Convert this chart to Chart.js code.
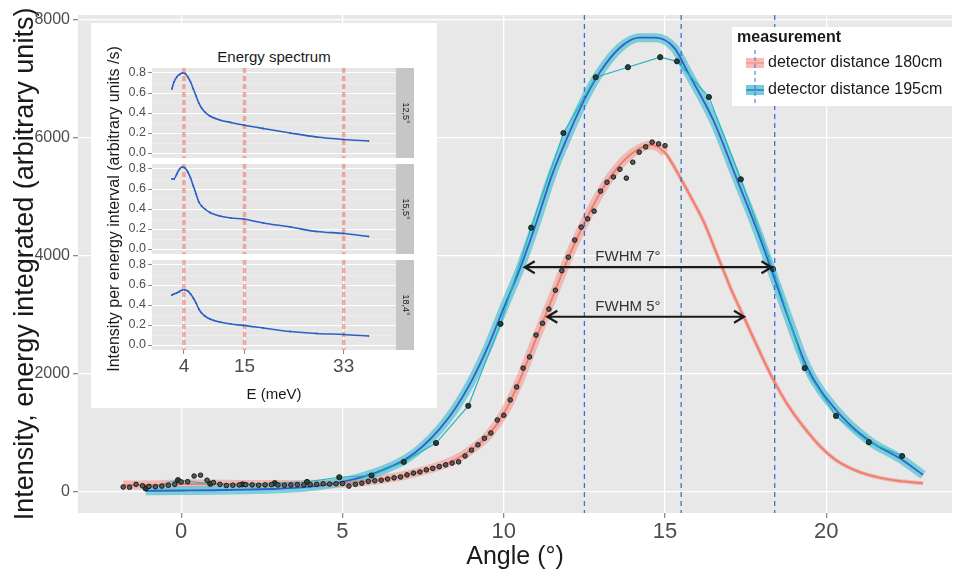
<!DOCTYPE html>
<html>
<head>
<meta charset="utf-8">
<title>Intensity vs angle</title>
<script src="https://cdn.jsdelivr.net/npm/chart.js@4.4.1/dist/chart.umd.min.js"></script>
<style>
  html, body { margin: 0; padding: 0; background: #fff; }
  #wrap { position: relative; width: 957px; height: 574px; overflow: hidden; font-family: "Liberation Sans", Arial, sans-serif; color: #1a1a1a; }
  #main { position: absolute; left: 0; top: 0; }
  #inset { position: absolute; left: 91px; top: 23px; width: 346px; height: 385px; background: #fff; }
  #inset canvas { position: absolute; left: 0; }
  #insetTitle { position: absolute; left: 61px; width: 244px; top: 25px; text-align: center; font-size: 15px; }
  #insetYTitle { position: absolute; width: 360px; left: -157px; top: 177px; line-height: 18px; text-align: center; font-size: 16px; transform: rotate(-90deg); white-space: nowrap; }
</style>
</head>
<body>
<div id="wrap">
  <canvas id="main" width="957" height="574"></canvas>
  <div id="inset">
    <div id="insetTitle">Energy spectrum</div>
    <canvas id="p0" width="323" height="110" style="top:35px"></canvas>
    <canvas id="p1" width="323" height="110" style="top:131px"></canvas>
    <canvas id="p2" width="323" height="158" style="top:227px"></canvas>
    <div id="insetYTitle">Intensity per energy interval (arbitrary units /s)</div>
  </div>
</div>
<script>
// main plot: detector distance 180cm (dense scan)
const redAngle = [
  -1.8, -1.6, -1.4, -1.2, -1.0, -0.8, -0.6, -0.4, -0.2, 0.0,
  0.2, 0.4, 0.6, 0.8, 1.0, 1.2, 1.4, 1.6, 1.8, 2.0,
  2.2, 2.4, 2.6, 2.8, 3.0, 3.2, 3.4, 3.6, 3.8, 4.0,
  4.2, 4.4, 4.6, 4.8, 5.0, 5.2, 5.4, 5.6, 5.8, 6.0,
  6.2, 6.4, 6.6, 6.8, 7.0, 7.2, 7.4, 7.6, 7.8, 8.0,
  8.2, 8.4, 8.6, 8.8, 9.0, 9.2, 9.4, 9.6, 9.8, 10.0,
  10.2, 10.4, 10.6, 10.8, 11.0, 11.2, 11.4, 11.6, 11.8, 12.0,
  12.2, 12.4, 12.6, 12.8, 13.0, 13.2, 13.4, 13.6, 13.8, 14.0,
  14.2, 14.4, 14.6, 14.8, 15.0
];
const redIntensity = [
  85, 80, 130, 105, 95, 90, 100, 115, 130, 170,
  175, 270, 285, 200, 160, 130, 110, 115, 120, 125,
  120, 115, 120, 125, 120, 115, 120, 125, 120, 125,
  130, 140, 135, 140, 145, 100, 130, 150, 180, 190,
  200, 220, 240, 255, 290, 320, 340, 375, 400, 430,
  460, 490, 510, 610, 710, 800, 910, 1000, 1220, 1300,
  1560, 1780, 2100, 2290, 2660, 2860, 3100, 3420, 3750, 3980,
  4270, 4490, 4630, 4760, 5100, 5250, 5340, 5470, 5320, 5590,
  5760, 5850, 5930, 5900, 5870
];
// detector distance 195cm (1 degree steps)
const blueAngle = [-1.1, -0.1, 0.9, 1.9, 2.9, 3.9, 4.9, 5.9, 6.9, 7.9, 8.9, 9.9, 10.85, 11.85, 12.85, 13.85, 14.85, 15.37, 16.36, 17.35, 18.35, 19.33, 20.3, 21.32, 22.35];
const blueIntensity = [60, 200, 140, 130, 150, 170, 250, 280, 510, 830, 1460, 2850, 4480, 6085, 7030, 7200, 7370, 7300, 6695, 5300, 3780, 2100, 1290, 845, 610];

// smoothed fits
const redFitAngle = [-1.8, -1, 0, 1, 2, 3, 4, 5, 6, 7, 7.5, 8, 8.5, 9, 9.5, 10, 10.5, 11, 11.5, 12, 12.5, 13, 13.5, 14, 14.55, 15, 15.46, 15.8, 16.2, 16.5, 16.8, 17.1, 17.44, 17.9, 18.36, 18.8, 19.3, 19.8, 20.3, 20.8, 21.3, 22.2, 23.0];
const redFit = [120, 120, 135, 135, 125, 125, 130, 150, 200, 290, 360, 440, 550, 720, 950, 1330, 1900, 2600, 3280, 3970, 4560, 5080, 5480, 5750, 5880, 5750, 5340, 5000, 4580, 4180, 3770, 3370, 2970, 2420, 1900, 1480, 1100, 780, 540, 390, 290, 190, 150];
const blueFitAngle = [-1.1, 0, 1, 2, 3, 4, 5, 6, 6.5, 7, 7.5, 8, 8.5, 9, 9.5, 10, 10.5, 11, 11.5, 12, 12.5, 13, 13.6, 14.2, 14.7, 15.3, 15.7, 16.5, 17.2, 17.85, 18.3, 18.77, 19.4, 20.3, 21.3, 22.37, 23.0];
const blueFit = [20, 25, 30, 40, 55, 90, 170, 320, 430, 570, 780, 1060, 1420, 1880, 2450, 3120, 3780, 4550, 5380, 6050, 6650, 7130, 7530, 7700, 7700, 7520, 7120, 6300, 5340, 4440, 3760, 3030, 2120, 1390, 880, 540, 290];

const angleTicks = [0, 5, 10, 15, 20];
const intensityTicks = [0, 2000, 4000, 6000, 8000];

const markerAngles = [12.5, 15.5, 18.4];
const fwhmLabels = ['FWHM 7°', 'FWHM 5°'];
const fwhmFrom = [10.65, 11.35];
const fwhmTo = [18.3, 17.45];
const fwhmLevel = [3810, 2970];
const fwhmLabelAngle = [13.85, 13.85];

const legendTitle = 'measurement';
const seriesLabels = ['detector distance 180cm', 'detector distance 195cm'];

// inset: energy spectra at three angles
const energy = [1.8, 2.2, 2.7, 3.2, 3.7, 4.2, 4.7, 5.2, 5.7, 6.2, 6.7, 7.2, 7.8, 8.7, 10.5, 12.5, 14.8, 18.4, 23.3, 28.1, 33.0, 37.5];
const spec125 = [0.64, 0.71, 0.76, 0.785, 0.80, 0.795, 0.76, 0.71, 0.64, 0.57, 0.50, 0.45, 0.41, 0.37, 0.33, 0.305, 0.28, 0.245, 0.20, 0.16, 0.135, 0.12];
const spec155 = [0.70, 0.70, 0.75, 0.80, 0.82, 0.81, 0.77, 0.71, 0.63, 0.55, 0.47, 0.43, 0.40, 0.365, 0.33, 0.31, 0.30, 0.26, 0.22, 0.175, 0.155, 0.125];
const spec184 = [0.50, 0.51, 0.52, 0.535, 0.55, 0.55, 0.54, 0.51, 0.47, 0.42, 0.36, 0.32, 0.29, 0.26, 0.23, 0.21, 0.196, 0.17, 0.135, 0.115, 0.105, 0.09];
const stripLabels = ['12,5°', '15,5°', '18,4°'];
const energyTicks = [4, 15, 33];
const spectrumTicks = [0, 0.1, 0.2, 0.3, 0.4, 0.5, 0.6, 0.7, 0.8];

const FONT = "'Liberation Sans', Arial, sans-serif";
Chart.defaults.font.family = FONT;
Chart.defaults.color = '#4d4d4d';

const toPoints = (xs, ys) => xs.map((x, i) => ({ x: x, y: ys[i] }));
const fixTicks = list => s => { s.ticks = list.map(v => ({ value: v })); };

const panelBackground = {
  id: 'panelBackground',
  beforeDraw(chart, args, opts) {
    const { ctx, chartArea: a } = chart;
    ctx.save();
    ctx.fillStyle = opts.color;
    ctx.fillRect(a.left, a.top, a.right - a.left, a.bottom - a.top);
    ctx.restore();
  }
};

const annotations = {
  id: 'annotations',
  afterDatasetsDraw(chart) {
    const { ctx, chartArea: a, scales: { x, y } } = chart;
    ctx.save();
    // vertical markers
    ctx.strokeStyle = '#3b6fd4';
    ctx.lineWidth = 1.3;
    ctx.setLineDash([5, 4]);
    markerAngles.forEach(v => {
      const px = x.getPixelForValue(v);
      ctx.beginPath();
      ctx.moveTo(px, a.top);
      ctx.lineTo(px, a.bottom);
      ctx.stroke();
    });
    ctx.setLineDash([]);
    // FWHM arrows
    ctx.strokeStyle = '#1a1a1a';
    ctx.lineWidth = 2.2;
    fwhmLevel.forEach((lvl, i) => {
      const py = y.getPixelForValue(lvl);
      const x0 = x.getPixelForValue(fwhmFrom[i]);
      const x1 = x.getPixelForValue(fwhmTo[i]);
      ctx.beginPath();
      ctx.moveTo(x0, py); ctx.lineTo(x1, py);
      ctx.moveTo(x0 + 10, py - 6); ctx.lineTo(x0, py); ctx.lineTo(x0 + 10, py + 6);
      ctx.moveTo(x1 - 10, py - 6); ctx.lineTo(x1, py); ctx.lineTo(x1 - 10, py + 6);
      ctx.stroke();
      ctx.fillStyle = '#333';
      ctx.font = '15px ' + FONT;
      ctx.textAlign = 'center';
      ctx.textBaseline = 'middle';
      ctx.fillText(fwhmLabels[i], x.getPixelForValue(fwhmLabelAngle[i]), py - 10);
    });
    ctx.restore();
  }
};

const legendBox = {
  id: 'legendBox',
  afterDraw(chart) {
    const { ctx } = chart;
    ctx.save();
    ctx.fillStyle = '#fff';
    ctx.fillRect(732, 27, 222, 79);
    ctx.fillStyle = '#1a1a1a';
    ctx.font = 'bold 16px ' + FONT;
    ctx.textAlign = 'left';
    ctx.textBaseline = 'middle';
    ctx.fillText(legendTitle, 737, 38);
    const keys = [['rgba(246,128,116,0.55)', 'rgba(239,127,110,0.7)'], ['rgba(88,196,214,0.85)', '#2f62c9']];
    seriesLabels.forEach((lab, i) => {
      const cy = 63 + i * 27;
      ctx.fillStyle = keys[i][0];
      ctx.fillRect(746, cy - 5, 18, 10);
      ctx.strokeStyle = keys[i][1];
      ctx.lineWidth = 1.2;
      ctx.beginPath(); ctx.moveTo(746, cy); ctx.lineTo(764, cy); ctx.stroke();
      ctx.fillStyle = '#1a1a1a';
      ctx.font = '16px ' + FONT;
      ctx.fillText(lab, 768, cy);
    });
    ctx.strokeStyle = '#3b6fd4';
    ctx.lineWidth = 1;
    ctx.setLineDash([4, 3]);
    ctx.beginPath(); ctx.moveTo(755, 50); ctx.lineTo(755, 103); ctx.stroke();
    ctx.restore();
  }
};

new Chart(document.getElementById('main'), {
  type: 'line',
  data: {
    datasets: [
      { data: toPoints(redAngle, redIntensity), showLine: false, pointRadius: 2.3, pointBackgroundColor: '#5a5a5a', pointBorderColor: '#111', pointBorderWidth: 0.9, order: 1 },
      { data: toPoints(blueAngle, blueIntensity), borderColor: '#22b4c4', borderWidth: 1.2, pointRadius: 2.6, pointBackgroundColor: '#24403c', pointBorderColor: '#0d1d1a', pointBorderWidth: 0.9, order: 2 },
      { data: toPoints(blueFitAngle, blueFit), borderColor: '#2f62c9', borderWidth: 1.8, pointRadius: 0, cubicInterpolationMode: 'monotone', order: 3 },
      { data: toPoints(redFitAngle, redFit), borderColor: '#ef7f6e', borderWidth: 2, pointRadius: 0, cubicInterpolationMode: 'monotone', order: 4 },
      { data: toPoints(blueFitAngle, blueFit), borderColor: 'rgba(88,196,214,0.75)', borderWidth: 9, pointRadius: 0, cubicInterpolationMode: 'monotone', order: 5 },
      {
        data: toPoints(redFitAngle, redFit), borderColor: 'rgba(246,120,108,0.42)', borderWidth: 9, pointRadius: 0, cubicInterpolationMode: 'monotone', order: 6,
        segment: { borderWidth: c => c.p0.parsed.x >= 15 ? 4 : 9 }
      }
    ]
  },
  options: {
    responsive: false,
    animation: false,
    devicePixelRatio: 1,
    layout: { padding: { top: 15, right: 0, left: 0, bottom: 0 } },
    plugins: {
      legend: { display: false },
      tooltip: { enabled: false },
      panelBackground: { color: '#e8e8e8' }
    },
    scales: {
      x: {
        type: 'linear', min: -3.2, max: 23.9,
        afterBuildTicks: fixTicks(angleTicks),
        afterFit: s => { s.height = 61; },
        border: { display: false },
        grid: { color: '#fff', lineWidth: 1.3, tickColor: '#8a8a8a', tickLength: 5 },
        ticks: { font: { size: 22 }, padding: 1, color: '#4d4d4d', callback: v => String(v) },
        title: { display: true, text: 'Angle (°)', color: '#1a1a1a', font: { size: 25 }, padding: { top: 2, bottom: 2 } }
      },
      y: {
        min: -356, max: 8085,
        afterBuildTicks: fixTicks(intensityTicks),
        afterFit: s => { s.width = 78; },
        border: { display: false },
        grid: { color: '#fff', lineWidth: 1.3, tickColor: '#8a8a8a', tickLength: 5 },
        ticks: { font: { size: 16 }, padding: 3, color: '#4d4d4d', callback: v => String(v) },
        title: { display: true, text: 'Intensity, energy integrated (arbitrary units)', color: '#1a1a1a', font: { size: 27 }, padding: { top: 9, bottom: 9 } }
      }
    }
  },
  plugins: [panelBackground, annotations, legendBox]
});

const energyMarks = {
  id: 'energyMarks',
  beforeDatasetsDraw(chart) {
    const { ctx, chartArea: a, scales: { x } } = chart;
    ctx.save();
    ctx.strokeStyle = 'rgba(240,122,110,0.6)';
    ctx.lineWidth = 3.5;
    ctx.setLineDash([5, 3]);
    energyTicks.forEach(e => {
      const px = x.getPixelForValue(e);
      ctx.beginPath(); ctx.moveTo(px, a.top); ctx.lineTo(px, a.bottom); ctx.stroke();
    });
    ctx.restore();
  }
};

const strip = {
  id: 'strip',
  afterDraw(chart, args, opts) {
    const { ctx, chartArea: a } = chart;
    ctx.save();
    ctx.fillStyle = '#c6c6c6';
    ctx.fillRect(a.right, a.top, 18, a.bottom - a.top);
    ctx.translate(a.right + 9, (a.top + a.bottom) / 2);
    ctx.rotate(Math.PI / 2);
    ctx.fillStyle = '#1a1a1a';
    ctx.font = '9px ' + FONT;
    ctx.textAlign = 'center';
    ctx.textBaseline = 'middle';
    ctx.fillText(opts.label, 0, 0);
    ctx.restore();
  }
};

const isMajor = v => Math.round(v * 10) % 2 === 0;

function makePanel(id, values, label, withAxis) {
  return new Chart(document.getElementById(id), {
    type: 'line',
    data: {
      datasets: [{
        data: toPoints(energy, values),
        borderColor: '#2b5fc6', borderWidth: 1.6,
        pointRadius: 0.9, pointBackgroundColor: '#2b5fc6', pointBorderWidth: 0,
        cubicInterpolationMode: 'monotone'
      }]
    },
    options: {
      responsive: false,
      animation: false,
      devicePixelRatio: 1,
      layout: { padding: { left: 0, right: 18, top: 10, bottom: withAxis ? 0 : 10 } },
      plugins: {
        legend: { display: false },
        tooltip: { enabled: false },
        panelBackground: { color: '#e6e6e6' },
        strip: { label: label }
      },
      scales: {
        x: {
          type: 'linear', min: -1.8, max: 42.5,
          display: withAxis,
          afterBuildTicks: fixTicks(energyTicks),
          afterFit: s => { if (withAxis) s.height = 58; },
          border: { display: false },
          grid: { color: '#fff', tickColor: '#8a8a8a', tickLength: 4 },
          ticks: { font: { size: 19 }, padding: 1, color: '#4d4d4d' },
          title: { display: true, text: 'E (meV)', color: '#1a1a1a', font: { size: 15 }, padding: { top: 4, bottom: 4 } }
        },
        y: {
          min: -0.05, max: 0.85,
          afterBuildTicks: fixTicks(spectrumTicks),
          afterFit: s => { s.width = 61; },
          border: { display: false },
          grid: {
            color: c => isMajor(c.tick.value) ? '#fff' : 'rgba(255,255,255,0.6)',
            lineWidth: c => isMajor(c.tick.value) ? 1 : 0.5,
            tickColor: c => isMajor(c.tick.value) ? '#8a8a8a' : 'rgba(0,0,0,0)',
            tickLength: 4
          },
          ticks: {
            autoSkip: false,
            font: { size: 12.5 }, padding: 2, color: '#4d4d4d',
            callback: v => isMajor(v) ? v.toFixed(1) : ''
          }
        }
      }
    },
    plugins: [panelBackground, energyMarks, strip]
  });
}

makePanel('p0', spec125, stripLabels[0], false);
makePanel('p1', spec155, stripLabels[1], false);
makePanel('p2', spec184, stripLabels[2], true);
</script>
</body>
</html>
